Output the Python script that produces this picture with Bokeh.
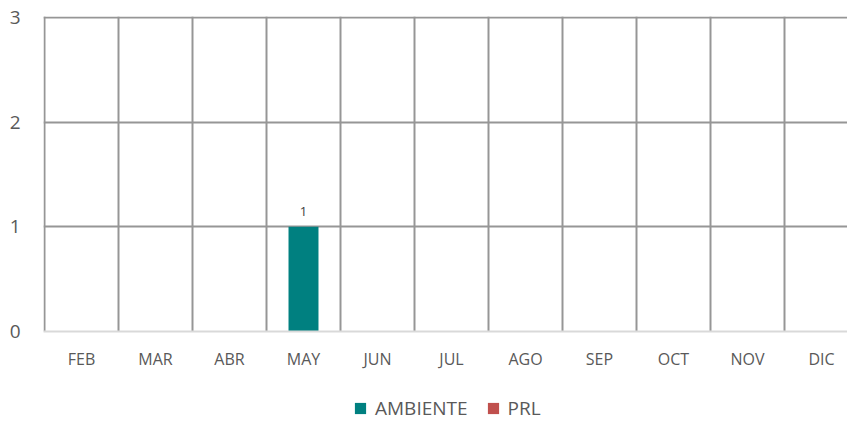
from bokeh.plotting import figure
from bokeh.layouts import column
from bokeh.models import Range1d, FixedTicker, Legend, LegendItem, ColumnDataSource
from bokeh.embed import file_html
from bokeh.resources import INLINE
from bokeh.core.properties import value

months = ["FEB", "MAR", "ABR", "MAY", "JUN", "JUL", "AGO", "SEP", "OCT", "NOV", "DIC"]
ambiente = [0, 0, 0, 1, 0, 0, 0, 0, 0, 0, 0]
prl = [0, 0, 0, 0, 0, 0, 0, 0, 0, 0, 0]
y_ticks = [0, 1, 2, 3]

FONT = "Open Sans"
TXT = "#595959"
GRID = "#969696"
C_AMB = "#008080"
C_PRL = "#C0504D"

xs = [i + 0.5 for i in range(len(months))]
src = ColumnDataSource(dict(x=xs, amb=ambiente, prl=prl,
                            lbl=[str(v) if v else "" for v in ambiente]))

p = figure(width=847, height=372, output_backend="svg", toolbar_location=None,
           x_range=Range1d(-1 / 74, 804 / 74 - 1 / 74), y_range=Range1d(0, 3 + 1 / 106),
           min_border_left=43, min_border_right=0, min_border_top=16,
           min_border_bottom=37)
p.outline_line_color = None

r_amb = p.vbar(x="x", top="amb", width=0.405, source=src, fill_color=C_AMB, line_color=None)
r_prl = p.vbar(x="x", top="prl", width=0.405, source=src, fill_color=C_PRL, line_color=None)

p.text(x="x", y="amb", text="lbl", source=src, text_align="center", text_baseline="middle",
       y_offset=-15, text_font=value(FONT), text_font_size="13px", text_color="#404040")

# x axis
p.xaxis.ticker = FixedTicker(ticks=xs)
p.xaxis.major_label_overrides = {x: m for x, m in zip(xs, months)}
p.xaxis.major_tick_line_color = None
p.xaxis.minor_tick_line_color = None
p.xaxis.axis_line_color = "#d9d9d9"
p.xaxis.axis_line_width = 2
p.xaxis.major_label_standoff = 10
p.xaxis.major_label_text_font = FONT
p.xaxis.major_label_text_font_size = "16px"
p.xaxis.major_label_text_color = TXT

# y axis
p.yaxis.ticker = FixedTicker(ticks=y_ticks)
p.yaxis.major_tick_line_color = None
p.yaxis.minor_tick_line_color = None
p.yaxis.axis_line_color = None
p.yaxis.major_label_standoff = 17
p.yaxis.major_label_text_font = FONT
p.yaxis.major_label_text_font_size = "19px"
p.yaxis.major_label_text_color = TXT

# grids
p.ygrid.ticker = FixedTicker(ticks=y_ticks[1:])
p.ygrid.grid_line_color = GRID
p.ygrid.grid_line_width = 2
p.xgrid.ticker = FixedTicker(ticks=list(range(len(months))))
p.xgrid.grid_line_color = GRID
p.xgrid.grid_line_width = 2

# legend strip below the chart
q = figure(width=847, height=49, output_backend="svg", toolbar_location=None,
           x_range=Range1d(0, 1), y_range=Range1d(0, 1),
           x_axis_location=None, y_axis_location=None,
           min_border_left=0, min_border_right=0, min_border_top=0, min_border_bottom=0)
q.outline_line_color = None
q.grid.visible = False
l_amb = q.vbar(x=[5], top=[0], width=0.1, fill_color=C_AMB, line_color=None)
l_prl = q.vbar(x=[5], top=[0], width=0.1, fill_color=C_PRL, line_color=None)

legend = Legend(items=[LegendItem(label="AMBIENTE", renderers=[l_amb]),
                       LegendItem(label="PRL", renderers=[l_prl])],
                orientation="horizontal", location=(310, 0),
                glyph_width=14, glyph_height=14, label_standoff=8, spacing=18,
                padding=0, margin=0, border_line_color=None, background_fill_alpha=0,
                label_text_font=FONT, label_text_font_size="19px", label_text_color=TXT)
q.add_layout(legend, "center")

open("out.html", "w").write(file_html(column(p, q, spacing=0), INLINE))
